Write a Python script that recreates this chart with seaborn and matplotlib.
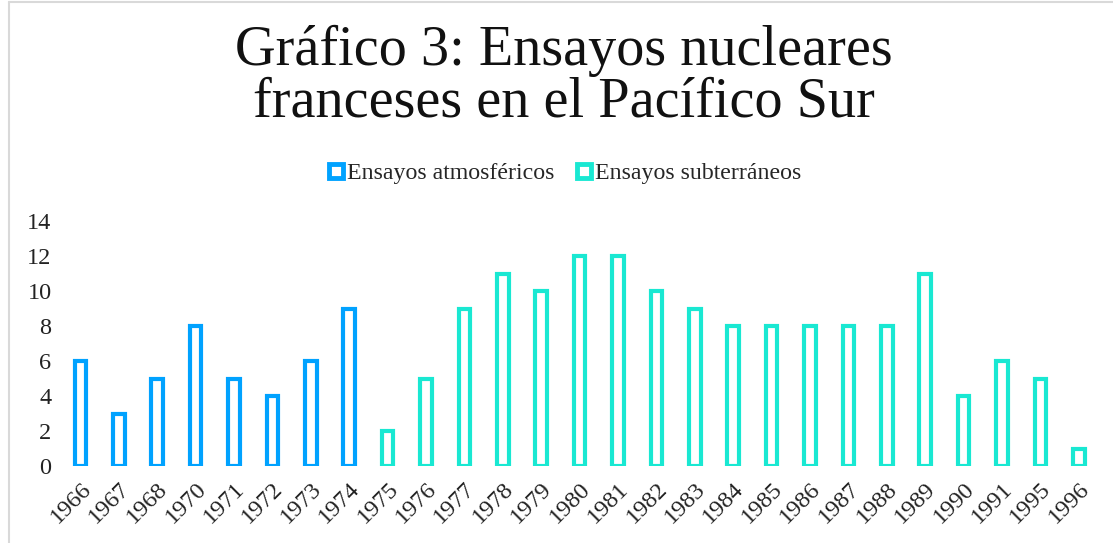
import pandas as pd
import matplotlib.pyplot as plt
import seaborn as sns
from matplotlib.lines import Line2D

# Data
years = ["1966", "1967", "1968", "1970", "1971", "1972", "1973", "1974", "1975",
         "1976", "1977", "1978", "1979", "1980", "1981", "1982", "1983", "1984",
         "1985", "1986", "1987", "1988", "1989", "1990", "1991", "1995", "1996"]
atmosfericos = [6, 3, 5, 8, 5, 4, 6, 9] + [0] * 19
subterraneos = [0] * 8 + [2, 5, 9, 11, 10, 12, 12, 10, 9, 8, 8, 8, 8, 8, 11, 4, 6, 5, 1]

labels = ["Ensayos atmosféricos", "Ensayos subterráneos"]
colors = ["#00a2ff", "#19e8d2"]

# long format, only keep the real bars
df = pd.concat([
    pd.DataFrame({"year": years, "n": atmosfericos, "tipo": labels[0]}),
    pd.DataFrame({"year": years, "n": subterraneos, "tipo": labels[1]}),
], ignore_index=True)
df = df[df["n"] > 0]

sns.set_style("white")
plt.rcParams["font.family"] = ["Liberation Serif", "DejaVu Serif"]

fig = plt.figure(figsize=(11.13, 5.43), dpi=100)
ax = fig.add_axes([0.055, 0.1418, 0.9315, 0.4512])

sns.barplot(data=df, x="year", y="n", hue="tipo", order=years,
            hue_order=labels, palette=colors, dodge=False, fill=False,
            width=0.3, linewidth=3.0, errorbar=None, ax=ax)

ax.legend_.remove()
ax.set_xlim(-0.5, len(years) - 0.5)
ax.set_ylim(0, 14)
ax.set_yticks(range(0, 15, 2))
ax.set_xlabel("")
ax.set_ylabel("")
for s in ax.spines.values():
    s.set_visible(False)
ax.tick_params(axis="y", length=0, pad=7, labelsize=17.5, labelcolor="#222222")
ax.tick_params(axis="x", length=0, pad=9, labelsize=17.5, labelcolor="#222222")
for t in ax.get_xticklabels():
    t.set_rotation(45)
    t.set_ha("right")
    t.set_rotation_mode("anchor")

# Title
fig.text(0.507, 0.954, "Gráfico 3: Ensayos nucleares\nfranceses en el Pacífico Sur",
         ha="center", va="top", fontsize=40.5, linespacing=0.99, color="#111111")

# Legend with hollow square markers
handles = [Line2D([], [], marker="s", linestyle="none", markersize=10,
                  markerfacecolor="white", markeredgecolor=c, markeredgewidth=3.5)
           for c in colors]
fig.legend(handles, labels, loc="center", bbox_to_anchor=(0.507, 0.681), ncol=2,
           frameon=False, fontsize=17.2, handlelength=0.7, handletextpad=0.1,
           columnspacing=0.9)

# light chart border on top and left
fig.add_artist(Line2D([9 / 1113, 9 / 1113], [0, 1 - 2 / 543], color="#d9d9d9",
                      linewidth=1.5, transform=fig.transFigure))
fig.add_artist(Line2D([9 / 1113, 1], [1 - 2 / 543, 1 - 2 / 543], color="#d9d9d9",
                      linewidth=1.5, transform=fig.transFigure))

fig.savefig("out.png", dpi=100)
